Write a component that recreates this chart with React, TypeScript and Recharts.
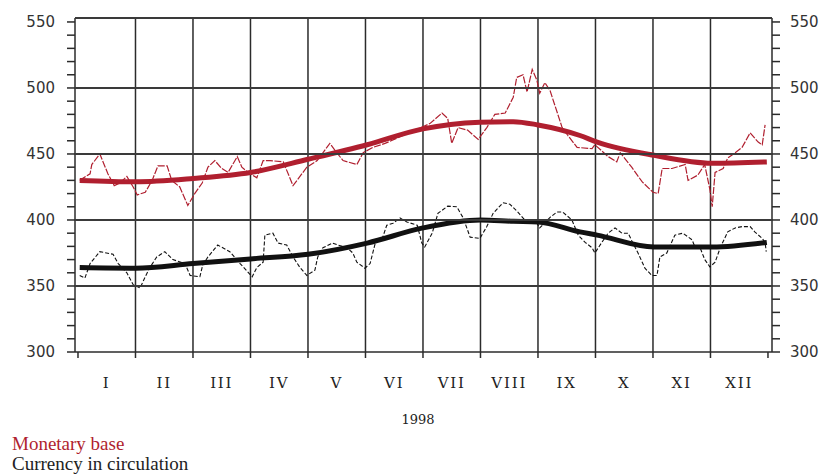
import React from "react";
import {
  LineChart,
  Line,
  XAxis,
  YAxis,
  CartesianGrid,
} from "recharts";

// x positions are in months from 1 Jan 1998 (0 = start of Jan, 12 = end of Dec)
const monthLabels = ["I", "II", "III", "IV", "V", "VI", "VII", "VIII", "IX", "X", "XI", "XII"];
const monthBounds = [0, 1, 2, 3, 4, 5, 6, 7, 8, 9, 10, 11, 12];
const monthMids = [0.5, 1.5, 2.5, 3.5, 4.5, 5.5, 6.5, 7.5, 8.5, 9.5, 10.5, 11.5];
const yTicks = [300, 310, 320, 330, 340, 350, 360, 370, 380, 390, 400, 410, 420, 430, 440, 450, 460, 470, 480, 490, 500, 510, 520, 530, 540, 550];
const gridLevels = [350, 400, 450, 500, 553];
const xDomain = [-0.052, 12.07];
const yDomain = [300, 553];

// Monetary base, daily-ish readings
const baseX = [0.03, 0.21, 0.24, 0.38, 0.52, 0.63, 0.73, 0.85, 0.96, 1.03, 1.17, 1.29, 1.39, 1.55, 1.63, 1.77, 1.91, 2.03, 2.16, 2.26, 2.38, 2.5, 2.61, 2.77, 2.85, 2.96, 3.11, 3.22, 3.34, 3.57, 3.74, 3.86, 3.98, 4.16, 4.38, 4.5, 4.61, 4.85, 4.96, 5.13, 5.34, 5.6, 5.86, 6.12, 6.33, 6.43, 6.5, 6.61, 6.78, 6.96, 7.11, 7.25, 7.43, 7.57, 7.63, 7.74, 7.81, 7.9, 7.98, 8.03, 8.12, 8.21, 8.3, 8.42, 8.52, 8.68, 8.94, 8.99, 9.22, 9.37, 9.43, 9.63, 9.81, 10.0, 10.09, 10.16, 10.33, 10.56, 10.61, 10.78, 10.9, 10.99, 11.03, 11.08, 11.22, 11.3, 11.43, 11.55, 11.69, 11.83, 11.9, 11.95];
const baseY = [430, 435, 442, 450, 435, 426, 428, 433, 425, 419, 421, 430, 441, 441, 430, 425, 411, 420, 428, 440, 445, 439, 436, 448, 440, 436, 432, 445, 445, 444, 426, 433, 440, 445, 458, 451, 445, 442, 451, 455, 458, 463, 468, 473, 481, 477, 458, 470, 468, 461, 470, 480, 481, 493, 508, 510, 497, 514, 506, 496, 504, 498, 486, 470, 464, 455, 454, 457, 448, 444, 451, 440, 429, 421, 420, 439, 439, 442, 430, 434, 442, 423, 410, 436, 439, 447, 451, 455, 466, 459, 457, 472];

// Monetary base, trend
const baseTrendX = [0.03, 1.0, 2.0, 3.0, 4.0, 5.03, 6.0, 6.99, 7.57, 8.0, 8.73, 9.03, 10.02, 11.03, 11.98];
const baseTrendY = [430, 429, 431.5, 436, 446, 457, 469, 474, 474.5, 472, 464, 459, 449, 443, 444];

// Currency in circulation
const currX = [0.03, 0.12, 0.21, 0.38, 0.61, 0.7, 0.85, 0.96, 1.08, 1.17, 1.25, 1.37, 1.51, 1.65, 1.86, 1.95, 2.12, 2.17, 2.26, 2.43, 2.64, 2.82, 3.03, 3.11, 3.22, 3.25, 3.39, 3.48, 3.63, 3.74, 3.86, 3.98, 4.12, 4.17, 4.26, 4.43, 4.52, 4.68, 4.78, 4.85, 4.99, 5.08, 5.17, 5.3, 5.37, 5.48, 5.6, 5.72, 5.9, 5.98, 6.03, 6.16, 6.26, 6.43, 6.59, 6.7, 6.82, 6.99, 7.11, 7.22, 7.39, 7.51, 7.65, 7.77, 7.95, 8.03, 8.21, 8.33, 8.43, 8.59, 8.7, 8.82, 8.94, 8.99, 9.11, 9.22, 9.34, 9.46, 9.57, 9.65, 9.74, 9.86, 9.98, 10.07, 10.12, 10.24, 10.38, 10.52, 10.68, 10.73, 10.82, 10.9, 10.99, 11.08, 11.17, 11.3, 11.43, 11.55, 11.69, 11.77, 11.9, 11.95, 11.97];
const currY = [358, 356, 367, 376, 374, 367, 360, 351, 348.5, 357, 364, 372, 376, 370, 367, 358, 357, 366, 372, 381, 376, 367, 357, 364, 368, 388.5, 390, 382.5, 381, 372, 364, 358, 362, 372, 379, 382.5, 381, 379, 375, 368, 363.5, 367, 382.5, 387, 396, 397.5, 401.5, 398.5, 396, 382.5, 379.5, 390, 405, 410.5, 410, 401.5, 387, 386, 395, 405, 413, 412, 406, 400, 400, 394, 402, 406, 406, 400, 388.5, 383, 379, 375, 383, 390, 394, 390, 390, 382.5, 375, 363.5, 358, 358, 372, 375, 388.5, 390, 385, 379.5, 379, 370, 364.5, 368, 379, 391, 394, 395, 395, 391, 386, 383, 376];

// Currency in circulation, trend
const currTrendX = [0.03, 1.0, 2.0, 3.0, 4.0, 5.03, 6.0, 7.0, 7.57, 8.0, 8.73, 9.03, 10.02, 11.03, 11.98];
const currTrendY = [364, 363.5, 367, 370.5, 374, 382.5, 394, 400, 399, 398.5, 391, 388.5, 379.5, 379.5, 383];

const zip = (xs: number[], ys: number[]) => xs.map((x, i) => ({ x, v: ys[i] }));

const baseData = zip(baseX, baseY);
const baseTrend = zip(baseTrendX, baseTrendY);
const currData = zip(currX, currY);
const currTrend = zip(currTrendX, currTrendY);

const W = 821;
const H = 475;
const M_TOP = 18;
const AX_LEFT = 75;
const AX_RIGHT = 49;
const AX_BOTTOM = 123;
const plotH = H - M_TOP - AX_BOTTOM;
const rowY = (v: number) => M_TOP + ((yDomain[1] - v) / (yDomain[1] - yDomain[0])) * plotH;

const RED = "#b01f2f";
const INK = "#2b2b2b";

const LeftTick = (props: any) => {
  const { x, y, payload } = props;
  if (payload.value % 50 !== 0) return <g />;
  return (
    <text x={x} y={y} dy={5} textAnchor="end" fontFamily="DejaVu Sans" fontSize={15} fill="#333">
      {payload.value}
    </text>
  );
};

const RightTick = (props: any) => {
  const { x, y, payload } = props;
  if (payload.value % 50 !== 0) return <g />;
  return (
    <text x={x} y={y} dy={5} textAnchor="start" fontFamily="DejaVu Sans" fontSize={15} fill="#333">
      {payload.value}
    </text>
  );
};

const MonthTick = (props: any) => {
  const { x, y, index } = props;
  return (
    <text x={x} y={y} dy={22} textAnchor="middle" fontFamily="DejaVu Serif" fontSize={15} letterSpacing={1.8} fill="#222">
      {monthLabels[index]}
    </text>
  );
};

export default function App() {
  return (
    <div style={{ position: "absolute", left: 0, top: 0, width: W, height: H, background: "#fff", overflow: "hidden" }}>
      <LineChart width={W} height={H} margin={{ top: M_TOP, right: 0, left: 0, bottom: 0 }}>
        <CartesianGrid
          xAxisId="grid"
          yAxisId="left"
          stroke={INK}
          strokeWidth={1.5}
          horizontal={false}
          verticalValues={[1, 2, 3, 4, 5, 6, 7, 8, 9, 10, 11]}
        />
        <XAxis
          xAxisId="grid"
          dataKey="x"
          type="number"
          domain={xDomain}
          allowDataOverflow
          ticks={monthBounds}
          tick={() => <g />}
          tickSize={6}
          height={6}
          stroke={INK}
          strokeWidth={1.5}
        />
        <XAxis
          xAxisId="months"
          dataKey="x"
          type="number"
          domain={xDomain}
          allowDataOverflow
          ticks={monthMids}
          tick={<MonthTick />}
          tickLine={false}
          axisLine={false}
          height={AX_BOTTOM - 6}
        />
        <YAxis
          yAxisId="left"
          type="number"
          domain={yDomain}
          allowDataOverflow
          ticks={yTicks}
          interval={0}
          tick={<LeftTick />}
          tickSize={8}
          tickMargin={12}
          width={AX_LEFT}
          stroke={INK}
          strokeWidth={1.5}
        />
        <YAxis
          yAxisId="right"
          orientation="right"
          type="number"
          domain={yDomain}
          allowDataOverflow
          ticks={yTicks}
          interval={0}
          tick={<RightTick />}
          tickSize={8}
          tickMargin={10}
          width={AX_RIGHT}
          stroke={INK}
          strokeWidth={1.5}
        />
        <Line
          xAxisId="grid"
          yAxisId="left"
          data={currData}
          dataKey="v"
          type="linear"
          stroke="#111"
          strokeWidth={1.1}
          strokeDasharray="4 2"
          dot={false}
          isAnimationActive={false}
        />
        <Line
          xAxisId="grid"
          yAxisId="left"
          data={currTrend}
          dataKey="v"
          type="monotone"
          stroke="#111"
          strokeWidth={5}
          dot={false}
          isAnimationActive={false}
        />
        <Line
          xAxisId="grid"
          yAxisId="left"
          data={baseData}
          dataKey="v"
          type="linear"
          stroke={RED}
          strokeWidth={1.2}
          strokeDasharray="7 1.5"
          dot={false}
          isAnimationActive={false}
        />
        <Line
          xAxisId="grid"
          yAxisId="left"
          data={baseTrend}
          dataKey="v"
          type="monotone"
          stroke={RED}
          strokeWidth={5}
          dot={false}
          isAnimationActive={false}
        />
      </LineChart>
      {/* horizontal rules */}
      {gridLevels.map((g) => (
        <div
          key={g}
          style={{
            position: "absolute",
            left: AX_LEFT,
            width: W - AX_LEFT - AX_RIGHT,
            top: Math.round(rowY(g)) - 1,
            height: 2,
            background: "#3a3a3a",
          }}
        />
      ))}
      <div
        style={{
          position: "absolute",
          left: 0,
          top: 412,
          width: 836,
          textAlign: "center",
          fontFamily: "DejaVu Serif",
          fontSize: 13,
          color: "#222",
        }}
      >
        1998
      </div>
      <div
        style={{
          position: "absolute",
          left: 12,
          top: 434,
          fontFamily: "Liberation Serif",
          fontSize: 19,
          lineHeight: "19px",
          color: RED,
          whiteSpace: "nowrap",
        }}
      >
        Monetary base
      </div>
      <div
        style={{
          position: "absolute",
          left: 12,
          top: 454,
          fontFamily: "Liberation Serif",
          fontSize: 19,
          lineHeight: "19px",
          color: "#222",
          whiteSpace: "nowrap",
        }}
      >
        Currency in circulation
      </div>
    </div>
  );
}
